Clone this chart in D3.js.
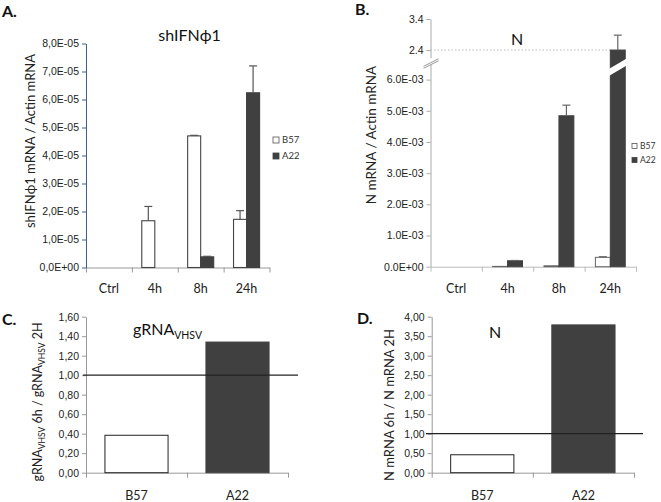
<!DOCTYPE html>
<html><head><meta charset="utf-8">
<script src="https://cdn.jsdelivr.net/npm/d3@7"></script>
<style>
body{margin:0;background:#fff;}
svg{font-family:Lato,"Open Sans",sans-serif;}
</style></head>
<body><svg id="c" width="661" height="502"></svg>
<script>
// ---------- data ----------
const timeCats = ["Ctrl","4h","8h","24h"];
const seriesNames = ["B57","A22"];
// Panel A: shIFNphi1 mRNA / Actin mRNA
const shB57 = [0, 1.67e-5, 4.70e-5, 1.72e-5];
const shB57Err = [0, 0.51e-5, 0.02e-5, 0.31e-5];
const shA22 = [0, 0, 0.38e-5, 6.24e-5];
const shA22Err = [0, 0, 0.02e-5, 0.96e-5];
const shTicks = [0,1e-5,2e-5,3e-5,4e-5,5e-5,6e-5,7e-5,8e-5];
// Panel B: N mRNA / Actin mRNA (broken axis)
const nB57 = [0, 0.01e-3, 0.03e-3, 0.30e-3];
const nB57Err = [0, 0, 0, 0.02e-3];
const nA22 = [0, 0.19e-3, 4.84e-3, 2.4];
const nA22Err = [0, 0.01e-3, 0.34e-3, 0.48];
const nLowTicks = [0,1e-3,2e-3,3e-3,4e-3,5e-3,6e-3];
const nHighTicks = [2.4, 3.4];
// Panel C: gRNA VHSV 6h / 2h
const lineCats = ["B57","A22"];
const gRatio = [0.384, 1.34];
const gTicks = [0,0.2,0.4,0.6,0.8,1.0,1.2,1.4,1.6];
// Panel D: N mRNA 6h / 2h
const nRatio = [0.46, 3.79];
const dTicks = [0,0.5,1,1.5,2,2.5,3,3.5,4];
const refLevel = 1.0;

// ---------- helpers ----------
const svg = d3.select("#c");
const DARK = "#404040";
function sci(v, dec){ // e.g. 8,0E-05
  if (v === 0) return "0" + dec + "0E+00";
  const e = Math.floor(Math.log10(v) + 1e-9);
  const m = v / Math.pow(10, e);
  const es = (e < 0 ? "-" : "+") + String(Math.abs(e)).padStart(2, "0");
  return m.toFixed(1).replace(".", dec) + "E" + es;
}
function comma2(v){ return v.toFixed(2).replace(".", ","); }

function xAxisBoundaries(g, n, x0, x1, y, color){
  const lin = d3.scaleLinear().domain([0,n]).range([x0,x1]);
  const ax = g.append("g").attr("transform",`translate(0,${y})`)
    .call(d3.axisBottom(lin).tickValues(d3.range(n+1)).tickFormat("").tickSize(5).tickSizeOuter(0));
  ax.select(".domain").attr("stroke",color);
  ax.selectAll(".tick line").attr("stroke",color);
}
function styleY(ax, color, fs){
  ax.select(".domain").attr("stroke",color);
  ax.selectAll(".tick line").attr("stroke",color);
  ax.selectAll(".tick text").attr("fill","#222").style("font-size",fs+"px");
}
function panelLabel(t,x,y){
  svg.append("text").attr("x",x).attr("y",y).text(t)
    .style("font-size","16px").style("font-weight","bold").attr("fill","#111");
}
function legend(x,y,gap,fs,sz){
  seriesNames.forEach((s,i)=>{
    svg.append("rect").attr("x",x).attr("y",y+i*gap-sz/2).attr("width",sz).attr("height",sz)
      .attr("fill", i===0?"#fff":DARK).attr("stroke", i===0?"#555":DARK).attr("stroke-width",0.8);
    svg.append("text").attr("x",x+sz+3).attr("y",y+i*gap).attr("dy","0.35em").text(s)
      .style("font-size",fs+"px").attr("fill","#333");
  });
}
function errBar(g, cx, yTop, yErr, color){
  g.append("line").attr("x1",cx).attr("x2",cx).attr("y1",yTop).attr("y2",yErr).attr("stroke",color).attr("stroke-width",1.2);
  g.append("line").attr("x1",cx-4).attr("x2",cx+4).attr("y1",yErr).attr("y2",yErr).attr("stroke",color).attr("stroke-width",1.2);
}

// ---------- Panel A ----------
(function(){
  const g = svg.append("g");
  const x = d3.scaleBand().domain(timeCats).range([86,269.5]);
  const xs = d3.scaleBand().domain(seriesNames).range([0,x.bandwidth()]).paddingOuter(0.76);
  const y = d3.scaleLinear().domain([0,8e-5]).range([267.5,43.5]);
  const ax = g.append("g").attr("transform","translate(86,0)")
    .call(d3.axisLeft(y).tickValues(shTicks).tickFormat(v=>sci(v,",")).tickSize(4).tickSizeOuter(0));
  styleY(ax,"#3f5f8a",10.5);
  xAxisBoundaries(g,4,86,269.5,267.5,"#999");
  ax.raise();
  const data = [[shB57,shB57Err],[shA22,shA22Err]];
  data.forEach(([vals,errs],si)=>{
    timeCats.forEach((c,i)=>{
      const bx = x(c)+xs(seriesNames[si]);
      if (vals[i] > 0) {
        g.append("rect").attr("x",bx).attr("y",y(vals[i])).attr("width",xs.bandwidth())
          .attr("height",y(0)-y(vals[i]))
          .attr("fill",si===0?"#fff":DARK).attr("stroke",si===0?"#444":DARK).attr("stroke-width",1.1);
        if (errs[i] > 0) errBar(g,bx+xs.bandwidth()/2,y(vals[i]),y(vals[i]+errs[i]),"#555");
      }
    });
  });
  timeCats.forEach(c=>{
    g.append("text").attr("x",x(c)+x.bandwidth()/2).attr("y",293).attr("text-anchor","middle")
      .text(c).style("font-size","12.5px").attr("fill","#222");
  });
  g.append("text").attr("x",189.5).attr("y",41).attr("text-anchor","middle").text("shIFNϕ1")
    .style("font-size","16px").attr("fill","#111");
  g.append("text").attr("transform","translate(35,141) rotate(-90)").attr("text-anchor","middle")
    .text("shIFNϕ1 mRNA / Actin mRNA").style("font-size","13px").attr("fill","#222");
  legend(273,140,16,9.5,6);
  panelLabel("A.",2,17);
})();

// ---------- Panel B ----------
(function(){
  const g = svg.append("g");
  const X0 = 430.5, X1 = 636;
  const x = d3.scaleBand().domain(timeCats).range([X0,X1]);
  const xs = d3.scaleBand().domain(seriesNames).range([0,x.bandwidth()]).paddingOuter(0.72);
  const yLow = d3.scaleLinear().domain([0,6.5e-3]).range([266.7,64]);
  const yHigh = d3.scaleLinear().domain([2.15,3.4]).range([57.8,19]);
  const breakV = 1; // values above this use upper scale
  const yv = v => v >= breakV ? yHigh(v) : yLow(v);
  const axL = g.append("g").attr("transform",`translate(${X0},0)`)
    .call(d3.axisLeft(yLow).tickValues(nLowTicks).tickFormat(v=>sci(v,".")).tickSize(4).tickSizeOuter(0));
  styleY(axL,"#aaa",10.5);
  const axH = g.append("g").attr("transform",`translate(${X0},0)`)
    .call(d3.axisLeft(yHigh).tickValues(nHighTicks).tickFormat(d3.format(".1f")).tickSize(4).tickSizeOuter(0));
  styleY(axH,"#aaa",10.5);
  xAxisBoundaries(g,4,X0,X1,266.7,"#bbb");
  // dotted guide at 2.4
  g.append("line").attr("x1",X0).attr("x2",x("24h")+xs("A22")).attr("y1",yHigh(2.4)).attr("y2",yHigh(2.4))
    .attr("stroke","#bbb").attr("stroke-dasharray","1.5,2");
  // break marks on axis
  [0,2].forEach(o=>{
    g.append("line").attr("x1",X0-7).attr("y1",yHigh(2.15)+8.5+o).attr("x2",X0+8).attr("y2",yHigh(2.15)+1+o)
      .attr("stroke","#999").attr("stroke-width",1);
  });
  const data = [[nB57,nB57Err],[nA22,nA22Err]];
  data.forEach(([vals,errs],si)=>{
    timeCats.forEach((c,i)=>{
      const bx = x(c)+xs(seriesNames[si]);
      const bw = xs.bandwidth();
      if (vals[i] > 0) {
        const top = yv(vals[i]);
        g.append("rect").attr("x",bx).attr("y",top).attr("width",bw).attr("height",yLow(0)-top)
          .attr("fill",si===0?"#fff":DARK).attr("stroke",si===0?"#666":DARK).attr("stroke-width",1);
        if (vals[i] >= breakV) {
          const yb = yHigh(2.15);
          g.append("polygon").attr("fill","#fff")
            .attr("points",[[bx-1,yb+11],[bx+bw+1,yb+1],[bx+bw+1,yb+8],[bx-1,yb+18]].map(p=>p.join(",")).join(" "));
        }
        if (errs[i] > 0) errBar(g,bx+bw/2,top,yv(vals[i]+errs[i]),"#666");
      }
    });
  });
  timeCats.forEach(c=>{
    g.append("text").attr("x",x(c)+x.bandwidth()/2).attr("y",293).attr("text-anchor","middle")
      .text(c).style("font-size","12.5px").attr("fill","#222");
  });
  g.append("text").attr("x",517).attr("y",45).attr("text-anchor","middle").text("N")
    .style("font-size","16px").attr("fill","#111");
  g.append("text").attr("transform","translate(376,135) rotate(-90)").attr("text-anchor","middle")
    .text("N mRNA / Actin mRNA").style("font-size","13.5px").attr("fill","#222");
  legend(632,146,14,8.5,5);
  panelLabel("B.",355,15);
})();

// ---------- Panels C & D ----------
function ratioPanel(opts){
  const g = svg.append("g");
  const x = d3.scaleBand().domain(lineCats).range([opts.x0,opts.x1]).paddingInner(0).paddingOuter(0);
  const xs = d3.scaleBand().domain(["b"]).range([0,x.bandwidth()]).paddingOuter(0.3);
  const y = d3.scaleLinear().domain([0,opts.max]).range([472.7,316.7]);
  const ax = g.append("g").attr("transform",`translate(${opts.x0},0)`)
    .call(d3.axisLeft(y).tickValues(opts.ticks).tickFormat(comma2).tickSize(4).tickSizeOuter(0));
  styleY(ax,"#999",10.5);
  xAxisBoundaries(g,2,opts.x0,opts.x1,472.7,"#999");
  lineCats.forEach((c,i)=>{
    const v = opts.vals[i];
    g.append("rect").attr("x",x(c)+xs("b")).attr("y",y(v)).attr("width",xs.bandwidth())
      .attr("height",y(0)-y(v)).attr("fill",i===0?"#fff":DARK).attr("stroke",i===0?"#222":DARK).attr("stroke-width",1);
    g.append("text").attr("x",x(c)+x.bandwidth()/2).attr("y",499.5).attr("text-anchor","middle")
      .text(c).style("font-size","12.5px").attr("fill","#222");
  });
  g.append("line").attr("x1",opts.rx0).attr("x2",opts.rx1).attr("y1",y(refLevel)).attr("y2",y(refLevel))
    .attr("stroke","#222").attr("stroke-width",1.3);
  return g;
}
(function(){
  const g = ratioPanel({x0:86,x1:288,max:1.6,ticks:gTicks,vals:gRatio,rx0:83,rx1:298});
  const t = g.append("text").attr("x",133).attr("y",335).style("font-size","16px").attr("fill","#111");
  t.append("tspan").text("gRNA");
  t.append("tspan").text("VHSV").attr("dy",4).style("font-size","10.5px");
  const yl = g.append("text").attr("transform","translate(42,402) rotate(-90)").attr("text-anchor","middle")
    .style("font-size","12.5px").attr("fill","#222");
  yl.append("tspan").text("gRNA");
  yl.append("tspan").text("VHSV").attr("dy",3).style("font-size","8.5px");
  yl.append("tspan").text(" 6h / gRNA").attr("dy",-3);
  yl.append("tspan").text("VHSV").attr("dy",3).style("font-size","8.5px");
  yl.append("tspan").text(" 2H").attr("dy",-3);
  panelLabel("C.",2,325);
})();
(function(){
  const g = ratioPanel({x0:431.7,x1:634,max:4,ticks:dTicks,vals:nRatio,rx0:426,rx1:643});
  g.append("text").attr("x",495).attr("y",338).attr("text-anchor","middle").text("N")
    .style("font-size","16px").attr("fill","#111");
  g.append("text").attr("transform","translate(394,405) rotate(-90)").attr("text-anchor","middle")
    .text("N mRNA 6h / N mRNA 2H").style("font-size","13px").attr("fill","#222");
  panelLabel("D.",357,324);
})();
</script></body></html>
